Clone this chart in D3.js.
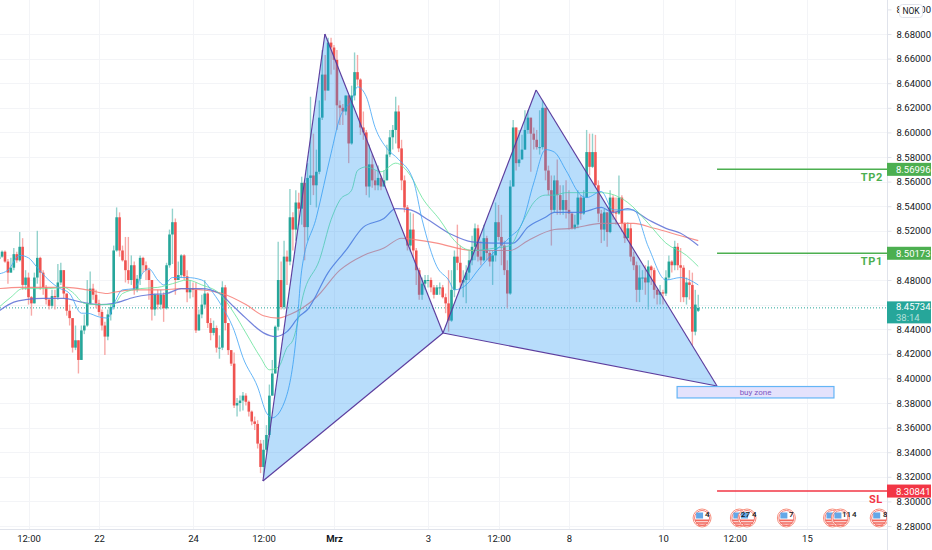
<!DOCTYPE html>
<html>
<head>
<meta charset="utf-8">
<script src="https://cdn.jsdelivr.net/npm/d3@7"></script>
<style>
  html, body { margin: 0; padding: 0; background: #fff; }
  svg { display: block; font-family: Roboto, "Liberation Sans", sans-serif; }
  .tick text { fill: #131722; }
</style>
</head>
<body>
<script>
var width = 932,
    height = 550,
    plotRight = 887,
    plotBottom = 529;

// 30 minute candles, open is the previous close unless listed in openOverrides
var firstOpen = 8.497;
var closes = [
  8.499,8.503,8.495,8.486,8.490,8.501,8.496,8.507,8.476,8.482,
  8.466,8.461,8.482,8.498,8.486,8.474,8.464,8.459,8.467,8.466,
  8.478,8.488,8.469,8.455,8.449,8.425,8.431,8.415,8.439,8.443,
  8.461,8.473,8.468,8.461,8.454,8.443,8.434,8.452,8.458,8.504,
  8.531,8.504,8.496,8.488,8.480,8.492,8.472,8.481,8.498,8.492,
  8.488,8.480,8.456,8.468,8.460,8.468,8.457,8.492,8.517,8.527,
  8.480,8.484,8.500,8.483,8.470,8.473,8.472,8.439,8.452,8.460,
  8.469,8.445,8.437,8.441,8.425,8.425,8.474,8.445,8.423,8.412,
  8.378,8.380,8.382,8.386,8.381,8.373,8.365,8.363,8.347,8.328,
  8.342,8.354,8.386,8.404,8.442,8.480,8.458,8.499,8.495,8.531,
  8.521,8.543,8.538,8.559,8.523,8.563,8.565,8.557,8.568,8.612,
  8.647,8.634,8.673,8.669,8.659,8.622,8.620,8.617,8.630,8.591,
  8.630,8.649,8.643,8.604,8.600,8.556,8.574,8.561,8.557,8.563,
  8.556,8.561,8.582,8.596,8.602,8.617,8.587,8.561,8.539,8.508,
  8.521,8.504,8.488,8.468,8.477,8.480,8.480,8.474,8.468,8.474,
  8.474,8.466,8.461,8.447,8.472,8.499,8.494,8.478,8.480,8.486,
  8.496,8.507,8.522,8.499,8.496,8.514,8.502,8.495,8.500,8.527,
  8.515,8.508,8.488,8.469,8.556,8.604,8.575,8.578,8.586,8.602,
  8.612,8.599,8.594,8.588,8.588,8.620,8.569,8.553,8.537,8.561,
  8.549,8.537,8.545,8.537,8.534,8.522,8.525,8.547,8.534,8.547,
  8.584,8.572,8.584,8.557,8.534,8.521,8.535,8.519,8.547,8.535,
  8.534,8.547,8.526,8.514,8.522,8.499,8.492,8.472,8.482,8.482,
  8.478,8.491,8.488,8.472,8.468,8.470,8.469,8.482,8.495,8.492,
  8.507,8.492,8.490,8.466,8.478,8.476,8.438,8.460,8.45734
];
var highs = [
  8.500,8.504,8.504,8.497,8.498,8.506,8.503,8.519,8.514,8.488,
  8.486,8.467,8.486,8.520,8.499,8.488,8.476,8.465,8.472,8.472,
  8.493,8.494,8.484,8.469,8.460,8.446,8.443,8.431,8.443,8.452,
  8.480,8.487,8.477,8.472,8.464,8.456,8.446,8.456,8.460,8.508,
  8.539,8.535,8.508,8.515,8.515,8.500,8.495,8.484,8.500,8.499,
  8.495,8.490,8.480,8.469,8.472,8.472,8.470,8.494,8.521,8.538,
  8.530,8.495,8.501,8.501,8.488,8.480,8.478,8.478,8.456,8.468,
  8.480,8.470,8.449,8.447,8.443,8.435,8.479,8.476,8.443,8.421,
  8.421,8.384,8.386,8.389,8.388,8.382,8.374,8.369,8.366,8.350,
  8.350,8.362,8.395,8.415,8.443,8.511,8.495,8.512,8.504,8.554,
  8.535,8.553,8.551,8.564,8.561,8.575,8.629,8.599,8.586,8.626,
  8.667,8.663,8.677,8.677,8.671,8.667,8.626,8.623,8.630,8.626,
  8.638,8.665,8.663,8.644,8.617,8.602,8.590,8.582,8.569,8.573,
  8.565,8.569,8.590,8.602,8.606,8.629,8.622,8.594,8.565,8.541,
  8.535,8.534,8.506,8.490,8.482,8.484,8.484,8.482,8.476,8.476,
  8.478,8.476,8.469,8.488,8.488,8.504,8.525,8.508,8.488,8.492,
  8.504,8.516,8.526,8.525,8.512,8.525,8.516,8.504,8.504,8.543,
  8.541,8.533,8.512,8.496,8.561,8.610,8.604,8.602,8.598,8.618,
  8.618,8.610,8.604,8.602,8.618,8.626,8.598,8.573,8.565,8.565,
  8.578,8.557,8.557,8.561,8.553,8.535,8.533,8.553,8.549,8.553,
  8.602,8.599,8.599,8.598,8.561,8.537,8.538,8.533,8.553,8.549,
  8.547,8.565,8.549,8.527,8.527,8.526,8.503,8.495,8.492,8.488,
  8.492,8.496,8.492,8.490,8.473,8.476,8.472,8.488,8.500,8.496,
  8.512,8.510,8.506,8.492,8.482,8.488,8.486,8.472,8.468
];
var lows = [
  8.497,8.498,8.494,8.477,8.486,8.488,8.494,8.495,8.472,8.472,
  8.460,8.451,8.464,8.477,8.472,8.468,8.460,8.456,8.457,8.456,
  8.464,8.476,8.465,8.451,8.443,8.421,8.423,8.404,8.427,8.436,
  8.442,8.460,8.464,8.457,8.451,8.439,8.419,8.431,8.447,8.456,
  8.503,8.499,8.495,8.478,8.477,8.476,8.468,8.470,8.476,8.486,
  8.480,8.464,8.447,8.451,8.456,8.456,8.446,8.456,8.490,8.493,
  8.468,8.480,8.482,8.480,8.462,8.465,8.466,8.437,8.443,8.449,
  8.457,8.441,8.431,8.435,8.421,8.416,8.423,8.439,8.419,8.410,
  8.376,8.369,8.373,8.374,8.378,8.369,8.362,8.358,8.343,8.323,
  8.321,8.340,8.352,8.386,8.407,8.439,8.456,8.456,8.476,8.492,
  8.504,8.512,8.525,8.525,8.496,8.512,8.541,8.549,8.539,8.566,
  8.610,8.626,8.638,8.647,8.651,8.602,8.606,8.606,8.614,8.575,
  8.590,8.626,8.638,8.598,8.594,8.549,8.547,8.555,8.553,8.553,
  8.553,8.556,8.561,8.580,8.586,8.591,8.584,8.553,8.535,8.504,
  8.503,8.498,8.476,8.464,8.464,8.472,8.474,8.470,8.465,8.468,
  8.468,8.465,8.453,8.438,8.446,8.466,8.488,8.473,8.466,8.461,
  8.480,8.492,8.496,8.495,8.492,8.495,8.496,8.491,8.476,8.495,
  8.512,8.492,8.484,8.457,8.468,8.556,8.569,8.572,8.578,8.586,
  8.599,8.568,8.586,8.586,8.582,8.586,8.561,8.549,8.508,8.535,
  8.533,8.533,8.533,8.530,8.521,8.521,8.521,8.522,8.529,8.533,
  8.561,8.565,8.571,8.555,8.527,8.510,8.512,8.507,8.518,8.529,
  8.525,8.533,8.519,8.510,8.512,8.495,8.488,8.462,8.462,8.472,
  8.468,8.456,8.476,8.465,8.460,8.460,8.460,8.467,8.480,8.486,
  8.488,8.488,8.462,8.462,8.460,8.464,8.427,8.435,8.454
];
var openOverrides = { 238: 8.455 };

// moving averages at the listed bars
var ma20Bars = [0,3,7,10,13,16,20,24,28,30,34,37,39,42,46,49,51,54,56,59,64,69,73,76,80,83,88,91,93,97,101,103,108,113,116,120,122,125,128,132,136,141,144,149,153,155,159,163,169,174,178,182,186,189,193,198,200,205,209,216,221,227,232,238];
var ma20 = [8.485,8.488,8.500,8.498,8.490,8.482,8.474,8.469,8.453,8.453,8.450,8.449,8.460,8.472,8.473,8.486,8.489,8.480,8.476,8.482,8.482,8.480,8.469,8.458,8.439,8.417,8.393,8.372,8.368,8.380,8.431,8.488,8.531,8.583,8.612,8.626,8.637,8.629,8.604,8.587,8.578,8.561,8.529,8.491,8.480,8.472,8.476,8.488,8.504,8.515,8.526,8.559,8.586,8.584,8.569,8.549,8.547,8.552,8.537,8.537,8.507,8.480,8.482,8.476];
var ma50Bars = [0,4,8,17,22,25,29,33,39,42,48,54,59,64,69,75,80,84,89,92,95,98,100,104,109,113,116,120,122,125,130,135,140,144,150,155,161,169,174,178,182,186,189,193,205,214,221,227,234,238];
var ma50 = [8.458,8.466,8.473,8.473,8.474,8.470,8.461,8.460,8.460,8.469,8.473,8.474,8.477,8.480,8.476,8.469,8.453,8.437,8.417,8.407,8.409,8.425,8.431,8.472,8.496,8.529,8.545,8.553,8.569,8.572,8.568,8.575,8.565,8.547,8.529,8.512,8.504,8.506,8.508,8.526,8.543,8.549,8.549,8.551,8.551,8.543,8.526,8.510,8.500,8.491];
var ma100Bars = [0,5,9,15,22,28,34,39,46,51,57,62,69,75,80,84,90,94,98,102,105,112,118,124,131,135,140,146,154,161,169,175,180,186,189,198,205,209,214,221,227,232,238];
var ma100 = [8.455,8.462,8.464,8.465,8.465,8.462,8.460,8.461,8.466,8.468,8.469,8.473,8.473,8.469,8.458,8.449,8.437,8.434,8.438,8.450,8.456,8.486,8.504,8.523,8.530,8.538,8.537,8.529,8.517,8.511,8.510,8.510,8.523,8.531,8.535,8.535,8.539,8.535,8.538,8.529,8.522,8.518,8.508];
var ma200Bars = [0,7,15,23,30,37,39,46,55,62,69,76,84,90,95,99,108,116,124,131,137,141,149,161,174,180,189,195,205,216,223,232,238];
var ma200 = [8.473,8.474,8.474,8.474,8.472,8.469,8.470,8.472,8.472,8.473,8.472,8.469,8.460,8.451,8.449,8.452,8.466,8.488,8.500,8.506,8.514,8.513,8.510,8.504,8.504,8.512,8.521,8.522,8.526,8.526,8.522,8.516,8.512];

var gridPrices = [8.28,8.30,8.32,8.34,8.36,8.38,8.40,8.42,8.44,8.46,8.48,8.50,8.52,8.54,8.56,8.58,8.60,8.62,8.64,8.66,8.68];
// 8.46 and 8.50 sit under the price tags, so they get no label
var priceTicks = [8.28,8.30,8.32,8.34,8.36,8.38,8.40,8.42,8.44,8.48,8.52,8.54,8.56,8.58,8.60,8.62,8.64,8.66,8.68,8.70];
var timeTicks = [10,34,66,90,114,146,170,194,226,250.4,275];
var timeLabels = ["12:00","22","24","12:00","Mrz","3","12:00","8","10","12:00","15"];

// harmonic pattern points X A B C D
var patternBars = [89.8,110.9,151.1,182.8,244.4];
var patternPrices = [8.3166,8.680,8.4369,8.6345,8.3938];

var lastPrice = 8.45734,
    countdown = "38:14",
    levelStart = 244.4;
var levelNames = ["TP2","TP1","SL"];
var levelPrices = [8.56996,8.50173,8.30841];
var levelColors = ["#4caf50","#4caf50","#f23645"];

var zoneBars = [230.8,284.2];
var zonePrices = [8.3934,8.3841];

var eventBars = [239.3,252,254.6,268,283.7,286.4,299.6];
var eventLabelBars = [240.3,252.5,256.3,268.9,286.9,290.3,300.9];
var eventLabels = ["4","27","4","7","11","4","8"];

var x = d3.scaleLinear().domain([10,226]).range([28.5,663]);
var y = d3.scaleLinear().domain([8.28,8.68]).range([526,34]);
var fmt = d3.format(".5f");

var svg = d3.select("body").append("svg")
    .attr("width", width)
    .attr("height", height);

svg.append("defs").append("clipPath").attr("id", "plot")
  .append("rect").attr("width", plotRight).attr("height", plotBottom);

// grid
var grid = svg.append("g").attr("stroke", "#f3f4f7").attr("stroke-width", 1);
grid.selectAll(".gy").data(gridPrices).enter().append("line")
    .attr("x1", 0).attr("x2", plotRight)
    .attr("y1", function(d) { return Math.round(y(d)) + .5; })
    .attr("y2", function(d) { return Math.round(y(d)) + .5; });
grid.selectAll(".gx").data(timeTicks).enter().append("line")
    .attr("y1", 0).attr("y2", plotBottom)
    .attr("x1", function(d) { return Math.round(x(d)) + .5; })
    .attr("x2", function(d) { return Math.round(x(d)) + .5; });

var plot = svg.append("g").attr("clip-path", "url(#plot)");

// last price dotted line
plot.append("line")
    .attr("x1", 0).attr("x2", plotRight)
    .attr("y1", y(lastPrice)).attr("y2", y(lastPrice))
    .attr("stroke", "#26a69a").attr("stroke-width", 1)
    .attr("stroke-dasharray", "1 2");

var candles = closes.map(function(c, i) {
  var o = i == 0 ? firstOpen : closes[i - 1];
  if (openOverrides[i] !== undefined) o = openOverrides[i];
  return { i: i, o: o, c: c, h: highs[i], l: lows[i], up: c >= o };
});

plot.selectAll(".wick").data(candles).enter().append("line")
    .attr("class", "wick")
    .attr("x1", function(d) { return x(d.i); })
    .attr("x2", function(d) { return x(d.i); })
    .attr("y1", function(d) { return y(Math.max(d.h, d.o, d.c)); })
    .attr("y2", function(d) { return y(Math.min(d.l, d.o, d.c)); })
    .attr("stroke", function(d) { return d.up ? "#93d2cc" : "#f7a9a7"; })
    .attr("stroke-width", 1.4);

plot.selectAll(".body").data(candles).enter().append("rect")
    .attr("class", "body")
    .attr("x", function(d) { return x(d.i) - 1.3; })
    .attr("width", 2.6)
    .attr("y", function(d) { return y(Math.max(d.o, d.c)); })
    .attr("height", function(d) { return Math.max(1, Math.abs(y(d.o) - y(d.c))); })
    .attr("fill", function(d) { return d.up ? "#26a69a" : "#ef5350"; });

// moving averages
function drawMa(bars, vals, color, w, op) {
  var line = d3.line()
      .x(function(d, i) { return x(bars[i]); })
      .y(function(d) { return y(d); })
      .curve(d3.curveMonotoneX);
  plot.append("path")
      .attr("d", line(vals))
      .attr("fill", "none")
      .attr("stroke", color)
      .attr("stroke-width", w)
      .attr("stroke-opacity", op);
}
drawMa(ma200Bars, ma200, "#f77c75", 1.1, .85);
drawMa(ma100Bars, ma100, "#5c6fd6", 1.2, .85);
drawMa(ma50Bars, ma50, "#66e29a", .9, .9);
drawMa(ma20Bars, ma20, "#42a5f5", .9, .9);

// XABCD pattern
var pts = patternBars.map(function(b, i) { return [x(b), y(patternPrices[i])]; });
var tri = d3.line();
[[0,1,2],[2,3,4]].forEach(function(t) {
  plot.append("path")
      .attr("d", tri(t.map(function(k) { return pts[k]; })) + "Z")
      .attr("fill", "#2196f3")
      .attr("fill-opacity", .32);
});
[[0,1],[1,2],[2,3],[3,4],[0,2],[2,4]].forEach(function(s) {
  plot.append("path")
      .attr("d", tri([pts[s[0]], pts[s[1]]]))
      .attr("fill", "none")
      .attr("stroke", "#5c3d9e")
      .attr("stroke-width", 1.15);
});

// buy zone
plot.append("rect")
    .attr("x", x(zoneBars[0]))
    .attr("y", y(zonePrices[0]))
    .attr("width", x(zoneBars[1]) - x(zoneBars[0]))
    .attr("height", y(zonePrices[1]) - y(zonePrices[0]))
    .attr("fill", "#e4e2fc")
    .attr("stroke", "#64b5f6")
    .attr("stroke-width", 1.2);
svg.append("text")
    .attr("x", (x(zoneBars[0]) + x(zoneBars[1])) / 2)
    .attr("y", (y(zonePrices[0]) + y(zonePrices[1])) / 2 + 3)
    .attr("text-anchor", "middle")
    .attr("font-size", 8)
    .attr("fill", "#7e57c2")
    .text("buy zone");

// target and stop levels
levelPrices.forEach(function(p, i) {
  plot.append("line")
      .attr("x1", x(levelStart)).attr("x2", plotRight)
      .attr("y1", y(p)).attr("y2", y(p))
      .attr("stroke", levelColors[i])
      .attr("stroke-width", 1.5);
  svg.append("text")
      .attr("x", 883)
      .attr("y", y(p) + 12)
      .attr("text-anchor", "end")
      .attr("font-size", 11)
      .attr("font-weight", 700)
      .attr("letter-spacing", .7)
      .attr("fill", levelColors[i])
      .text(levelNames[i]);
});

// economic event flags
var flags = plot.selectAll(".flag").data(eventBars).enter().append("g")
    .attr("class", "flag")
    .attr("transform", function(d) { return "translate(" + x(d) + ",518)"; });
flags.append("circle").attr("r", 9).attr("fill", "#fff").attr("stroke", "#f7907f").attr("stroke-width", 1);
flags.append("circle").attr("r", 7.5).attr("fill", "#fff").attr("stroke", "#f77c75").attr("stroke-width", 1);
flags.append("rect").attr("x", -6).attr("y", -5.5).attr("width", 7).attr("height", 6).attr("fill", "#64a8e8");
flags.append("rect").attr("x", -7).attr("y", 1.5).attr("width", 14).attr("height", 1.8).attr("fill", "#f26a60");
flags.append("rect").attr("x", -6).attr("y", 4.2).attr("width", 12).attr("height", 1.6).attr("fill", "#f26a60");
flags.append("rect").attr("x", -4).attr("y", 6.6).attr("width", 8).attr("height", 1.2).attr("fill", "#f26a60");
plot.selectAll(".flagLabel").data(eventLabels).enter().append("text")
    .attr("class", "flagLabel")
    .attr("x", function(d, i) { return x(eventLabelBars[i]); })
    .attr("y", 516.5)
    .attr("font-size", 8)
    .attr("font-weight", 500)
    .attr("fill", "#131722")
    .text(function(d) { return d; });

// time axis
var xAxis = d3.axisBottom(x)
    .tickValues(timeTicks)
    .tickSize(0)
    .tickPadding(6)
    .tickFormat(function(d, i) { return timeLabels[i]; });
var xg = svg.append("g").attr("transform", "translate(0," + (plotBottom + .5) + ")").call(xAxis);
xg.select(".domain").attr("stroke", "#e0e3eb").attr("d", "M0,0H" + plotRight);
xg.selectAll("text").attr("font-size", 9.5).attr("font-family", "Roboto, sans-serif")
    .attr("font-weight", function(d, i) { return timeLabels[i] == "Mrz" ? 700 : 400; });

// price axis
var yAxis = d3.axisRight(y)
    .tickValues(priceTicks)
    .tickSize(4)
    .tickPadding(5)
    .tickFormat(fmt);
var yg = svg.append("g").attr("transform", "translate(" + (plotRight + .5) + ",0)").call(yAxis);
yg.select(".domain").attr("stroke", "#e0e3eb").attr("d", "M0,0V" + height);
yg.selectAll(".tick line").attr("stroke", "#e0e3eb");
yg.selectAll("text").attr("font-size", 9.5).attr("font-family", "Roboto, sans-serif");

// price tags on the axis
levelPrices.forEach(function(p, i) {
  svg.append("rect")
      .attr("x", plotRight).attr("y", y(p) - 6.5)
      .attr("width", width - plotRight - 1).attr("height", 13)
      .attr("fill", levelColors[i]);
  svg.append("text")
      .attr("x", 896).attr("y", y(p) + 3.5)
      .attr("font-size", 9.5)
      .attr("fill", "#fff")
      .text(fmt(p));
});
svg.append("rect")
    .attr("x", plotRight).attr("y", y(lastPrice) - 6.5)
    .attr("width", width - plotRight - 1).attr("height", 22)
    .attr("fill", "#26a69a");
svg.append("text")
    .attr("x", 896).attr("y", y(lastPrice) + 2.5)
    .attr("font-size", 9.5).attr("fill", "#fff")
    .text(fmt(lastPrice));
svg.append("text")
    .attr("x", 896).attr("y", y(lastPrice) + 13.5)
    .attr("font-size", 9.5).attr("fill", "#b4e0db")
    .text(countdown);

// currency chip
svg.append("rect")
    .attr("x", 899.5).attr("y", 4.5)
    .attr("width", 23).attr("height", 13)
    .attr("rx", 3)
    .attr("fill", "#fff")
    .attr("stroke", "#e0e3eb");
svg.append("text")
    .attr("x", 911).attr("y", 14)
    .attr("text-anchor", "middle")
    .attr("font-size", 8.5)
    .attr("fill", "#131722")
    .text("NOK");
</script>
</body>
</html>
